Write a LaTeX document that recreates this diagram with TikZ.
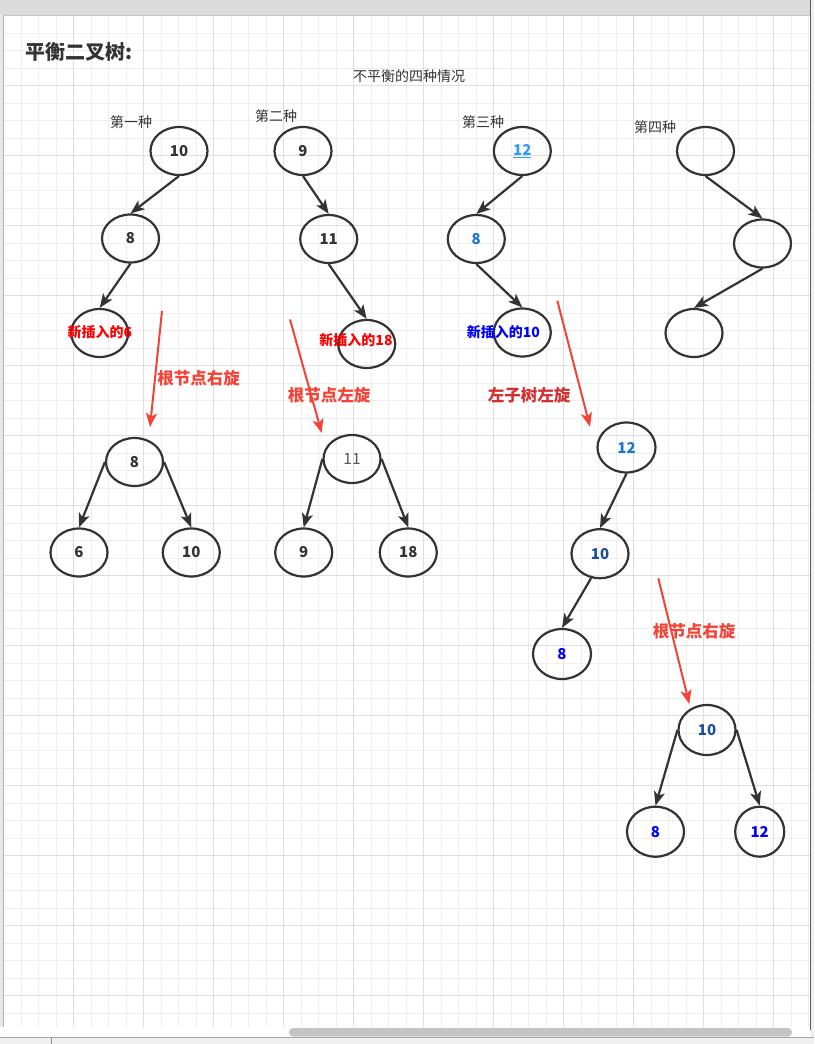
\documentclass[tikz,border=0pt]{standalone}
\usepackage{fontspec}
\setmainfont{Noto Sans CJK SC}
\usetikzlibrary{arrows.meta,shapes.geometric}
\definecolor{edgec}{HTML}{333333}
\definecolor{gridminor}{HTML}{EEEEEE}
\definecolor{gridmajor}{HTML}{DEDEDE}
\definecolor{redA}{HTML}{F44336}
\definecolor{redB}{HTML}{D32F2F}
\definecolor{pureRed}{HTML}{FF0000}
\definecolor{pureBlue}{HTML}{0000FF}
\definecolor{linkBlue}{HTML}{3399FF}
\definecolor{midBlue}{HTML}{1976D2}
\definecolor{darkBlue}{HTML}{1C4C9E}
\definecolor{grayTxt}{HTML}{555555}
\begin{document}
\begin{tikzpicture}[x=1pt,y=-1pt,
  tnode/.style={draw=edgec, line width=2.2pt, ellipse, minimum width=57pt, minimum height=48pt, inner sep=0pt, font=\fontsize{15}{17}\selectfont\bfseries, text=edgec},
  edgearrow/.style={draw=edgec, line width=2.2pt, -{Stealth[length=14pt,width=11pt,inset=3.5pt]}},
  redarrow/.style={draw=redA, line width=2pt, -{Stealth[length=14pt,width=11pt,inset=3.5pt]}},
  caselbl/.style={font=\fontsize{14}{16}\selectfont, text=edgec, inner sep=0pt},
  rotlbl/.style={font=\fontsize{16.5}{19}\selectfont\bfseries, text=redA, inner sep=0pt},
  newlbl/.style={font=\fontsize{14}{16}\selectfont\bfseries, inner sep=0pt},
  minorline/.style={draw=gridminor, line width=1pt},
  majorline/.style={draw=gridmajor, line width=1pt}]
\useasboundingbox (0,0) rectangle (814,1044);
% ---------- canvas background ----------
\fill[white] (0,0) rectangle (814,1044);
\foreach \i in {0,...,46} {\pgfmathsetmacro\xx{3.7+17.5*\i}\draw[minorline] (\xx,15) -- (\xx,1027);}
\foreach \i in {0,...,57} {\pgfmathsetmacro\yy{15.7+17.5*\i}\draw[minorline] (3.7,\yy) -- (810,\yy);}
\foreach \i in {0,...,11} {\pgfmathsetmacro\xx{3.7+70*\i}\draw[majorline] (\xx,15) -- (\xx,1027);}
\foreach \i in {0,...,14} {\pgfmathsetmacro\yy{15.7+70*\i}\draw[majorline] (3.7,\yy) -- (810,\yy);}
\fill[black!14] (0,0) rectangle (814,15);
\draw[black!22, line width=1pt] (0,15) -- (810,15);
\fill[black!9] (0,15) rectangle (3,1027);
\draw[black!30, line width=1pt] (3.5,15) -- (3.5,1027);
\fill[black!6] (811,0) rectangle (814,1044);
\draw[black!65, line width=1.5pt] (810.5,0) -- (810.5,1030);
\fill[white] (0,1027) rectangle (810,1037);
\fill[black!23, rounded corners=4pt] (289,1028) rectangle (792,1036.5);
\fill[black!6] (0,1037) rectangle (814,1044);
\draw[black!35, line width=1pt] (0,1037.5) -- (814,1037.5);
\draw[black!45, line width=0.8pt] (51,1038) -- (51,1044);
% ---------- titles ----------
\node[font=\fontsize{20}{24}\selectfont\bfseries, text=edgec, inner sep=0pt] (title) at (79,52) {平衡二叉树:};
\node[caselbl] (subtitle) at (409,76) {不平衡的四种情况};
\node[caselbl] (c1) at (131,122) {第一种};
\node[caselbl] (c2) at (276,116) {第二种};
\node[caselbl] (c3) at (483,122) {第三种};
\node[caselbl] (c4) at (655,127) {第四种};
% ---------- case 1 ----------
\node[tnode] (a10) at (179,151) {10};
\node[tnode] (a8) at (130.5,238.5) {8};
\node[tnode] (a6) at (99.7,333) {};
\draw[edgearrow] (a10.south) -- (a8.north);
\draw[edgearrow] (a8.south) -- (a6.north);
\node[newlbl, text=pureRed] (a6l) at (100,332) {新插入的6};
\coordinate (r1s) at (162,311);
\coordinate (r1e) at (150,427);
\draw[redarrow] (r1s) -- (r1e);
\node[rotlbl] (r1l) at (198.5,378) {根节点右旋};
\node[tnode] (b8) at (134.5,462) {8};
\node[tnode] (b6) at (79,552.5) {6};
\node[tnode] (b10) at (191.3,552.5) {10};
\draw[edgearrow] (b8.west) -- (b6.north);
\draw[edgearrow] (b8.east) -- (b10.north);
% ---------- case 2 ----------
\node[tnode] (d9) at (303,151) {9};
\node[tnode] (d11) at (328.7,239) {11};
\node[tnode] (d18) at (366.7,344) {};
\draw[edgearrow] (d9.south) -- (d11.north);
\draw[edgearrow] (d11.south) -- (d18.north);
\node[newlbl, text=pureRed] (d18l) at (356,340) {新插入的18};
\coordinate (r2s) at (290,319.5);
\coordinate (r2e) at (321.7,433);
\draw[redarrow] (r2s) -- (r2e);
\node[rotlbl] (r2l) at (329,395.5) {根节点左旋};
\node[tnode, font=\fontsize{15.5}{17}\selectfont, text=grayTxt] (e11) at (352,459) {11};
\node[tnode] (e9) at (303.7,552.5) {9};
\node[tnode] (e18) at (408.3,552.5) {18};
\draw[edgearrow] (e11.west) -- (e9.north);
\draw[edgearrow] (e11.east) -- (e18.north);
% ---------- case 3 ----------
\node[tnode, text=linkBlue] (f12) at (522.3,151) {\underline{12}};
\node[tnode, text=midBlue] (f8) at (476.3,239) {8};
\node[tnode] (f10) at (522.3,332.5) {};
\draw[edgearrow] (f12.south) -- (f8.north);
\draw[edgearrow] (f8.south) -- (f10.north);
\node[newlbl, text=pureBlue] (f10l) at (503.3,331.7) {新插入的10};
\coordinate (r3s) at (557.3,300.7);
\coordinate (r3e) at (590,426.7);
\draw[redarrow] (r3s) -- (r3e);
\node[rotlbl, text=redB] (r3l) at (529,395.7) {左子树左旋};
\node[tnode, minimum width=58pt, minimum height=50pt, text=midBlue] (g12) at (626.5,447.5) {12};
\node[tnode, minimum height=49pt, text=darkBlue] (g10) at (600,553.7) {10};
\node[tnode, minimum width=58pt, minimum height=50pt, text=pureBlue] (g8) at (562,654) {8};
\draw[edgearrow] (g12.south) -- (g10.north);
\draw[edgearrow] (g10.-110) -- (g8.north);
\coordinate (r4s) at (658.3,578.3);
\coordinate (r4e) at (689.3,704);
\draw[redarrow] (r4s) -- (r4e);
\node[rotlbl] (r4l) at (694,631) {根节点右旋};
\node[tnode, minimum height=50pt, text=darkBlue] (h10) at (707,730) {10};
\node[tnode, minimum height=50pt, text=pureBlue] (h8) at (655.5,831.7) {8};
\node[tnode, minimum width=49pt, minimum height=50pt, text=pureBlue] (h12) at (759.7,831.7) {12};
\draw[edgearrow] (h10.west) -- (h8.north);
\draw[edgearrow] (h10.east) -- (h12.north);
% ---------- case 4 ----------
\node[tnode] (k1) at (705.5,151) {};
\node[tnode] (k2) at (762.5,243.5) {};
\node[tnode] (k3) at (694,333) {};
\draw[edgearrow] (k1.south) -- (k2.north);
\draw[edgearrow] (k2.south) -- (k3.north);
\end{tikzpicture}
\end{document}
